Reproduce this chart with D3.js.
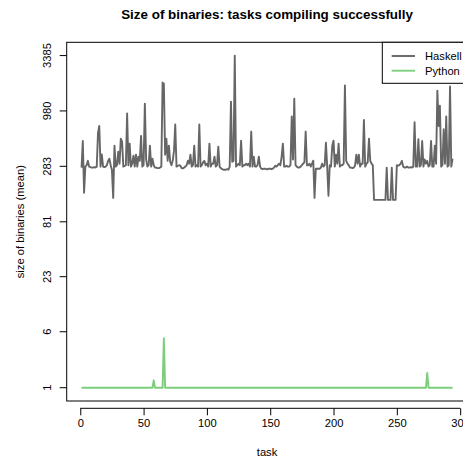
<!DOCTYPE html>
<html><head><meta charset="utf-8">
<script src="https://cdn.jsdelivr.net/npm/d3@7"></script>
<style>html,body{margin:0;padding:0;background:#fff;overflow:hidden}
text{font-family:"Liberation Sans",Arial,Helvetica,sans-serif;fill:#000}</style>
</head><body><svg id="c" width="463" height="461"></svg>
<script>
const title = "Size of binaries: tasks compiling successfully";
const xLabel = "task";
const yLabel = "size of binaries (mean)";
const seriesNames = ["Haskell", "Python"];
const seriesColors = ["#666666", "#7ccd7c"];
const xTicks = [0, 50, 100, 150, 200, 250, 300];
const yTickLabels = [1, 6, 23, 81, 283, 980, 3385];

const haskell = [
275,500,156,281,290,320,281,278,275,275,
278,275,281,600,700,281,370,281,278,281,
290,320,336,290,260,139,450,281,290,393,
300,527,493,281,285,290,924,290,471,281,
300,360,281,368,281,352,320,560,281,290,
1155,330,281,290,450,281,336,290,275,275,
272,272,275,281,1850,1800,368,527,321,450,
314,290,320,400,722,281,285,290,287,272,
270,275,281,290,321,300,368,281,290,450,
281,290,281,722,281,290,310,320,290,300,
281,471,281,300,300,352,281,290,440,281,
272,265,262,262,262,265,262,281,1208,314,
320,3385,281,290,300,290,504,281,290,290,
300,290,300,281,617,281,352,281,281,290,
352,281,268,265,268,268,265,265,268,268,
265,268,275,287,281,290,300,290,350,471,
281,281,287,281,281,290,864,330,1292,290,
281,275,275,281,290,300,310,617,290,290,
300,281,300,321,139,268,268,268,268,275,
300,281,290,480,281,146,290,281,450,504,
281,368,300,471,281,290,290,300,1730,320,
300,290,275,275,272,275,287,368,300,368,
281,300,300,800,281,300,310,527,320,300,
290,133,133,133,133,133,133,133,133,133,
133,275,133,133,133,275,133,133,133,290,
287,290,300,320,281,275,275,281,275,275,
278,275,281,760,281,281,520,281,290,500,
281,330,300,320,281,290,500,281,281,450,
300,1545,700,1100,281,290,650,300,864,281,
290,1700,281,336
];

const python = [
1,1,1,1,1,1,1,1,1,1,
1,1,1,1,1,1,1,1,1,1,
1,1,1,1,1,1,1,1,1,1,
1,1,1,1,1,1,1,1,1,1,
1,1,1,1,1,1,1,1,1,1,
1,1,1,1,1,1,1,1.36,1,1,
1,1,1,1,1,5.05,1,1,1,1,
1,1,1,1,1,1,1,1,1,1,
1,1,1,1,1,1,1,1,1,1,
1,1,1,1,1,1,1,1,1,1,
1,1,1,1,1,1,1,1,1,1,
1,1,1,1,1,1,1,1,1,1,
1,1,1,1,1,1,1,1,1,1,
1,1,1,1,1,1,1,1,1,1,
1,1,1,1,1,1,1,1,1,1,
1,1,1,1,1,1,1,1,1,1,
1,1,1,1,1,1,1,1,1,1,
1,1,1,1,1,1,1,1,1,1,
1,1,1,1,1,1,1,1,1,1,
1,1,1,1,1,1,1,1,1,1,
1,1,1,1,1,1,1,1,1,1,
1,1,1,1,1,1,1,1,1,1,
1,1,1,1,1,1,1,1,1,1,
1,1,1,1,1,1,1,1,1,1,
1,1,1,1,1,1,1,1,1,1,
1,1,1,1,1,1,1,1,1,1,
1,1,1,1,1,1,1,1,1,1,
1,1,1,1.78,1,1,1,1,1,1,
1,1,1,1,1,1,1,1,1,1,
1,1,1,1
];

const series = [haskell, python];
const tr = v => Math.log(v + 1);

const svg = d3.select("#c");
svg.append("rect").attr("width", 463).attr("height", 461).attr("fill", "#fff");

const L = 66.7, R = 467.4, T = 42.3, B = 401;
const n = haskell.length;
const xe = (n - 1) * 0.04;
const x = d3.scaleLinear().domain([1 - xe, n + xe]).range([L, R]);
const all = haskell.concat(python).map(tr);
const tmin = d3.min(all), tmax = d3.max(all), ye = (tmax - tmin) * 0.04;
const y = d3.scaleLinear().domain([tmin - ye, tmax + ye]).range([B, T]);

// data lines
series.forEach((s, k) => {
  svg.append("path")
    .datum(s)
    .attr("fill", "none")
    .attr("stroke", seriesColors[k])
    .attr("stroke-width", 1.9)
    .attr("stroke-linejoin", "round")
    .attr("d", d3.line().x((d, i) => x(i + 1)).y(d => y(tr(d))));
});

// box
svg.append("rect").attr("x", L).attr("y", T).attr("width", R - L).attr("height", B - T)
  .attr("fill", "none").attr("stroke", "#000").attr("stroke-width", 1);

// x axis (offset below box)
const xAxisG = svg.append("g").attr("transform", `translate(0,${B + 7.3})`)
  .call(d3.axisBottom(x).tickValues(xTicks).tickSize(7).tickPadding(4).tickFormat(d3.format("d")));
xAxisG.select(".domain").attr("d", `M${x(xTicks[0])},0H${x(xTicks[xTicks.length - 1])}`).attr("stroke", "#000");
xAxisG.selectAll("text").attr("font-size", 11.2).attr("font-family", '"Liberation Sans",Arial,sans-serif');
xAxisG.selectAll("line").attr("stroke", "#000");

// y axis
const yAxisG = svg.append("g").attr("transform", `translate(${L},0)`)
  .call(d3.axisLeft(y).tickValues(yTickLabels.map(tr)).tickSize(7)
    .tickFormat((d, i) => String(yTickLabels[i])));
yAxisG.select(".domain").remove();
yAxisG.selectAll("line").attr("stroke", "#000");
yAxisG.selectAll("text")
  .attr("font-size", 11.2).attr("font-family", '"Liberation Sans",Arial,sans-serif')
  .attr("text-anchor", "middle")
  .attr("x", 0).attr("dy", 0)
  .attr("transform", d => `translate(-15.5,${y(d)}) rotate(-90)`)
  .attr("y", 0);
yAxisG.selectAll(".tick").attr("transform", "translate(0,0)");
yAxisG.selectAll(".tick line").attr("y1", d => y(d)).attr("y2", d => y(d)).attr("x2", -7);

// title and labels
const cx = (L + R) / 2;
svg.append("text").attr("x", cx).attr("y", 19).attr("text-anchor", "middle")
  .attr("font-size", 13.4).attr("font-weight", "bold").text(title);
svg.append("text").attr("x", cx).attr("y", 455.5).attr("text-anchor", "middle")
  .attr("font-size", 11.2).text(xLabel);
svg.append("text").attr("transform", `translate(23.5,${(T + B) / 2}) rotate(-90)`)
  .attr("text-anchor", "middle").attr("font-size", 11.2).text(yLabel);

// legend
const lg = svg.append("g");
lg.append("rect").attr("x", 382.3).attr("y", T).attr("width", 100).attr("height", 41)
  .attr("fill", "#fff").attr("stroke", "#000").attr("stroke-width", 1);
seriesNames.forEach((nm, k) => {
  const yy = 56 + k * 14.7;
  lg.append("line").attr("x1", 391.7).attr("x2", 415).attr("y1", yy).attr("y2", yy)
    .attr("stroke", seriesColors[k]).attr("stroke-width", 1.9);
  lg.append("text").attr("x", 425).attr("y", yy + 4).attr("font-size", 11.2).text(nm);
});
</script></body></html>
